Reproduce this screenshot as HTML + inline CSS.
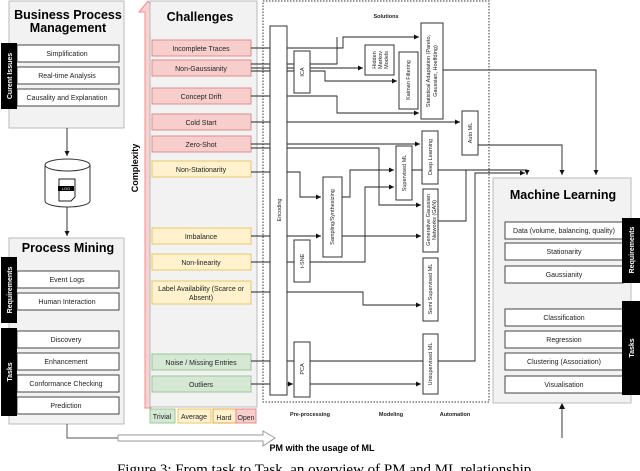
<!DOCTYPE html>
<html><head><meta charset="utf-8"><style>
html,body{margin:0;padding:0;background:#fff;width:640px;height:471px;overflow:hidden}
svg{display:block;font-family:"Liberation Sans",sans-serif}
</style></head><body>
<svg width="640" height="471" viewBox="0 0 640 471" xmlns="http://www.w3.org/2000/svg">
<defs>
<marker id="a" markerWidth="6" markerHeight="6" refX="5" refY="3" orient="auto" markerUnits="userSpaceOnUse"><path d="M0,0.5 L5,3 L0,5.5z" fill="#111"/></marker>
</defs>
<g font-size="7" fill="#222" text-anchor="middle">
<!-- BPM -->
<rect x="9" y="1" width="115" height="127" fill="#f2f2f2" stroke="#bbb"/>
<text x="68" y="19" font-size="12.5" font-weight="bold" fill="#000">Business Process</text>
<text x="68" y="32" font-size="12.5" font-weight="bold" fill="#000">Management</text>
<g fill="#fff" stroke="#444"><rect x="17" y="45" width="102" height="17"/><rect x="17" y="67" width="102" height="17"/><rect x="17" y="89" width="102" height="17"/></g>
<text x="67" y="56">Simplification</text><text x="67" y="78">Real-time Analysis</text><text x="67" y="100">Causality and Explanation</text>
<rect x="1" y="43" width="16" height="66" fill="#000"/>
<text transform="translate(12,76) rotate(-90)" fill="#fff" font-size="7" font-weight="bold">Curent Issues</text>
<!-- DB -->
<line x1="67" y1="128" x2="67" y2="156" stroke="#333" marker-end="url(#a)"/>
<path d="M45,165 v36 a22.5,6 0 0 0 45,0 v-36" fill="#fff" stroke="#333"/>
<ellipse cx="67.5" cy="165" rx="22.5" ry="6" fill="#fff" stroke="#333"/>
<path d="M59,179 h16 v18 l-4,4 h-12z" fill="#fff" stroke="#222"/>
<rect x="58" y="186" width="16" height="5" fill="#000"/>
<text x="66" y="190" font-size="4" fill="#fff">LOG</text>
<line x1="67" y1="207" x2="67" y2="236" stroke="#333" marker-end="url(#a)"/>
<!-- PM -->
<rect x="9" y="238" width="115" height="186" fill="#f2f2f2" stroke="#bbb"/>
<text x="68" y="252" font-size="12.5" font-weight="bold" fill="#000">Process Mining</text>
<g fill="#fff" stroke="#444"><rect x="17" y="271" width="102" height="17"/><rect x="17" y="293" width="102" height="17"/><rect x="17" y="331" width="102" height="17"/><rect x="17" y="353" width="102" height="17"/><rect x="17" y="375" width="102" height="17"/><rect x="17" y="397" width="102" height="17"/></g>
<text x="67" y="282">Event Logs</text><text x="67" y="304">Human Interaction</text><text x="66" y="342">Discovery</text><text x="66" y="364">Enhancement</text><text x="66" y="386">Conformance Checking</text><text x="66" y="408">Prediction</text>
<rect x="1" y="257" width="16" height="66" fill="#000"/>
<text transform="translate(12,290) rotate(-90)" fill="#fff" font-weight="bold">Requirements</text>
<rect x="1" y="328" width="16" height="88" fill="#000"/>
<text transform="translate(12,372) rotate(-90)" fill="#fff" font-weight="bold">Tasks</text>
<!-- bottom big arrow -->
<polyline points="67,424 67,438 120,438" fill="none" stroke="#555"/>
<path d="M118,435 H263 V431 L275,438 L263,446 V441 H118z" fill="#fff" stroke="#999"/>
<text x="322" y="451" font-size="9" font-weight="bold" fill="#000">PM with the usage of ML</text>
<text x="326" y="474" font-size="15" font-family="Liberation Serif,serif" fill="#000">Figure 3: From task to Task, an overview of PM and ML relationship.</text>
<!-- complexity -->
<path d="M145,408 V12 H139 L148,1 L157,12 H151 V408z" fill="#fbd0d0" stroke="#e89090"/>
<text transform="translate(138,168) rotate(-90)" font-size="9" font-weight="bold" fill="#000">Complexity</text>
<rect x="150" y="1" width="107" height="406" fill="#f2f2f2" stroke="#bbb"/>
<text x="200" y="21" font-size="12.5" font-weight="bold" fill="#000">Challenges</text>
<g stroke-width="1">
<g fill="#f8cecc" stroke="#e08e8e"><rect x="152" y="40" width="99" height="16"/><rect x="152" y="60" width="99" height="16"/><rect x="152" y="88" width="99" height="16"/><rect x="152" y="114" width="99" height="16"/><rect x="152" y="136" width="99" height="16"/></g>
<g fill="#fff2cc" stroke="#e8c76a"><rect x="152" y="161" width="99" height="16"/><rect x="152" y="228" width="99" height="16"/><rect x="152" y="254" width="99" height="16"/><rect x="152" y="281" width="99" height="23"/></g>
<g fill="#d5e8d4" stroke="#9cc79a"><rect x="152" y="354" width="99" height="16"/><rect x="152" y="376" width="99" height="16"/></g>
</g>
<text x="201" y="51">Incomplete Traces</text><text x="201" y="71">Non-Gaussianity</text><text x="201" y="99">Concept Drift</text><text x="201" y="125">Cold Start</text><text x="201" y="147">Zero-Shot</text><text x="201" y="172">Non-Stationarity</text><text x="201" y="239">Imbalance</text><text x="201" y="265">Non-linearity</text><text x="201" y="291">Label Availability (Scarce or</text><text x="201" y="300">Absent)</text><text x="201" y="365">Noise / Missing Entries</text><text x="201" y="387">Outliers</text>
<rect x="150" y="409" width="25" height="14" fill="#d5e8d4" stroke="#9cc79a"/><text x="162" y="419">Trivial</text>
<rect x="178" y="409" width="33" height="14" fill="#fff2cc" stroke="#e8c76a"/><text x="194" y="419">Average</text>
<rect x="213" y="409" width="23" height="14" fill="#fff2cc" stroke="#e8a84a"/><text x="224" y="420">Hard</text>
<rect x="236" y="409" width="20" height="14" fill="#f8cecc" stroke="#e08e8e"/><text x="246" y="420">Open</text>
<!-- solutions box -->
<rect x="263" y="1" width="226" height="401" fill="none" stroke="#333" stroke-dasharray="1.5,1.5"/>
<text x="386" y="18" font-size="5.5" font-weight="bold">Solutions</text>
<text x="310" y="416" font-size="5.5" font-weight="bold">Pre-processing</text>
<text x="391" y="416" font-size="5.5" font-weight="bold">Modeling</text>
<text x="455" y="416" font-size="5.5" font-weight="bold">Automation</text>
<!-- connectors -->
<g fill="none" stroke="#222" stroke-width="0.9">
<polyline points="251,48 343,48 343,37 419,37" marker-end="url(#a)"/>
<polyline points="251,64 337,64 337,37"/>
<polyline points="251,68 363,68" marker-end="url(#a)"/>
<polyline points="251,71 325,71 325,81 397,81" marker-end="url(#a)"/>
<polyline points="251,96 337,96 337,113 419,113" marker-end="url(#a)"/>
<polyline points="251,122 460,122" marker-end="url(#a)"/>
<polyline points="251,144 420,144" marker-end="url(#a)"/>
<polyline points="251,148 379,148 379,205 421,205" marker-end="url(#a)"/>
<polyline points="251,172 300,172 300,197 321,197" marker-end="url(#a)"/>
<polyline points="342,197 350,197 350,170 394,170" marker-end="url(#a)"/>
<polyline points="251,236 321,236" marker-end="url(#a)"/>
<polyline points="342,236 421,236" marker-end="url(#a)"/>
<polyline points="251,262 365,262 365,187 394,187" marker-end="url(#a)"/>
<polyline points="251,292 363,292 363,305 421,305" marker-end="url(#a)"/>
<polyline points="251,361 475,361 475,173 525,173" marker-end="url(#a)"/>
<polyline points="412,170 466,170 466,221 438,221"/>
<polyline points="438,170 466,170"/>
<polyline points="251,384 293,384" marker-end="url(#a)"/>
<polyline points="310,384 421,384" marker-end="url(#a)"/>
<polyline points="466,170 527,170 527,175" marker-end="url(#a)"/>
<polyline points="478,145 562,145 562,175" marker-end="url(#a)"/>
<polyline points="443,70 596,70 596,175" marker-end="url(#a)"/>
<polyline points="562,438 562,405"/>
<polyline points="556,409 562,403 568,409" stroke="none" fill="none"/>
</g>
<path d="M559,409 L562,403 L565,409z" fill="#111"/>
<!-- solution boxes -->
<g fill="#fff" stroke="#333">
<rect x="270" y="26" width="17" height="369"/>
<rect x="294" y="51" width="16" height="42"/>
<rect x="365" y="45" width="29" height="30"/>
<rect x="399" y="52" width="19" height="57"/>
<rect x="421" y="23" width="22" height="96"/>
<rect x="462" y="111" width="16" height="44"/>
<rect x="422" y="131" width="16" height="53"/>
<rect x="396" y="146" width="16" height="54"/>
<rect x="323" y="177" width="19" height="80"/>
<rect x="423" y="189" width="15" height="63"/>
<rect x="294" y="240" width="16" height="42"/>
<rect x="423" y="258" width="15" height="63"/>
<rect x="294" y="342" width="16" height="55"/>
<rect x="423" y="334" width="15" height="60"/>
</g>
<g font-size="5.5">
<text transform="translate(281,210) rotate(-90)">Encoding</text>
<text transform="translate(304,72) rotate(-90)">ICA</text>
<text transform="translate(376,60) rotate(-90)">Hidden</text>
<text transform="translate(382,60) rotate(-90)">Markov</text>
<text transform="translate(388,60) rotate(-90)">Models</text>
<text transform="translate(410,80) rotate(-90)">Kalman Filtering</text>
<text transform="translate(430,71) rotate(-90)">Statistical Adaptation (Pareto,</text>
<text transform="translate(437,71) rotate(-90)">Gaussian, Hoeffding)</text>
<text transform="translate(472,133) rotate(-90)">Auto ML</text>
<text transform="translate(432,157) rotate(-90)">Deep Learning</text>
<text transform="translate(406,173) rotate(-90)">Supervised ML</text>
<text transform="translate(334,217) rotate(-90)">Sampling/Synthesizing</text>
<text transform="translate(430,220) rotate(-90)">Generative Gaussian</text>
<text transform="translate(436,220) rotate(-90)">Networks (GAN)</text>
<text transform="translate(304,261) rotate(-90)">t-SNE</text>
<text transform="translate(432,289) rotate(-90)">Semi Supervised ML</text>
<text transform="translate(304,369) rotate(-90)">PCA</text>
<text transform="translate(432,364) rotate(-90)">Unsupervised ML</text>
</g>
<!-- ML -->
<rect x="493" y="178" width="138" height="225" fill="#f2f2f2" stroke="#bbb"/>
<text x="563" y="199" font-size="12.5" font-weight="bold" fill="#000">Machine Learning</text>
<g fill="#fff" stroke="#444"><rect x="505" y="222" width="118" height="17"/><rect x="505" y="243" width="118" height="17"/><rect x="505" y="266" width="118" height="17"/><rect x="505" y="309" width="118" height="17"/><rect x="505" y="331" width="118" height="17"/><rect x="505" y="353" width="118" height="17"/><rect x="505" y="376" width="118" height="17"/></g>
<text x="564" y="233">Data (volume, balancing, quality)</text><text x="564" y="254">Stationarity</text><text x="564" y="277">Gaussianity</text><text x="564" y="320">Classification</text><text x="564" y="342">Regression</text><text x="564" y="364">Clustering (Association)</text><text x="564" y="387">Visualisation</text>
<rect x="622" y="218" width="18" height="65" fill="#000"/>
<text transform="translate(634,250) rotate(-90)" fill="#fff" font-weight="bold">Requirements</text>
<rect x="622" y="301" width="18" height="94" fill="#000"/>
<text transform="translate(634,348) rotate(-90)" fill="#fff" font-weight="bold">Tasks</text>
</g>
</svg>
</body></html>
